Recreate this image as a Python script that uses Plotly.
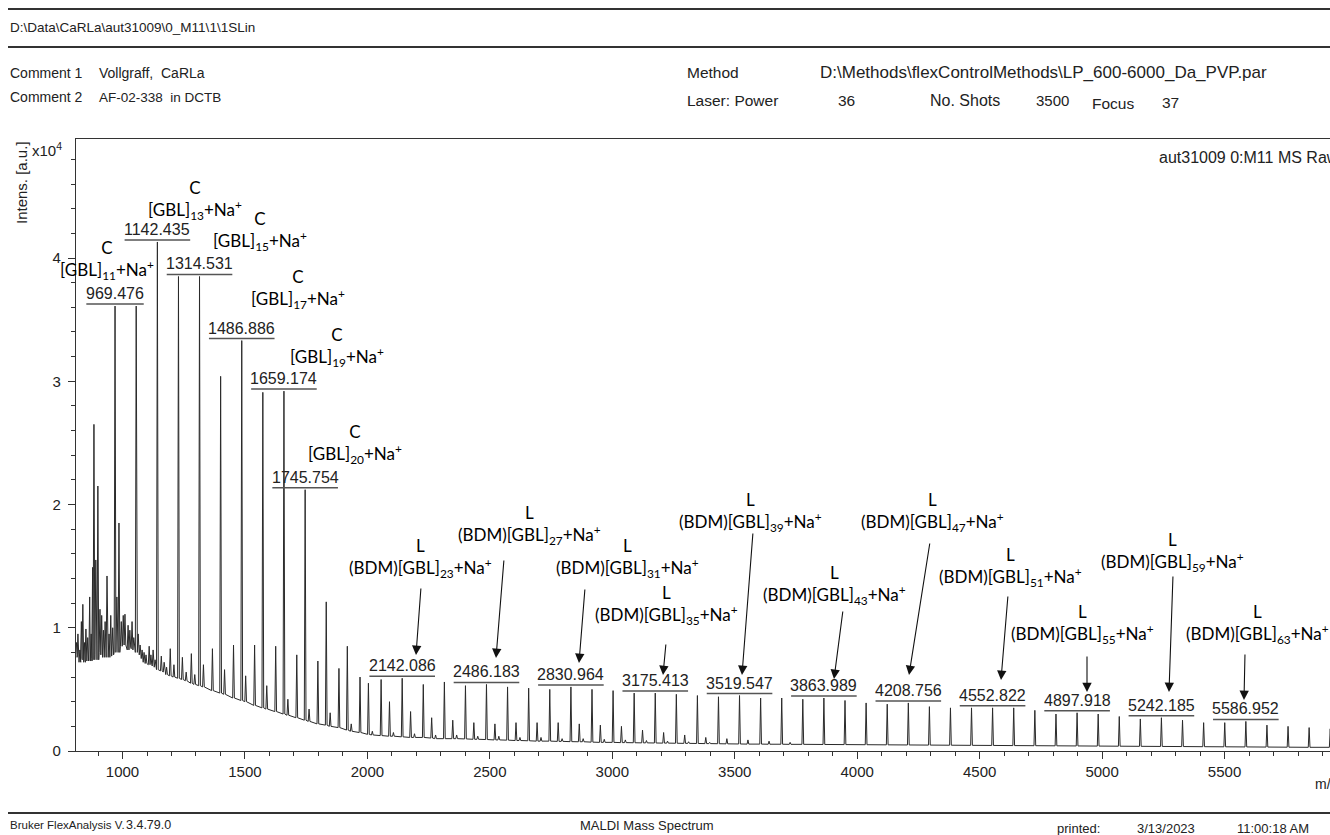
import plotly.graph_objects as go

# ---------------- data (intensities in 10^4 a.u.) ----------------
# cyclic series [GBL]n+Na+
c_mz = [883.4, 969.5, 1055.9, 1142.4, 1228.5, 1314.5, 1400.7, 1486.9, 1573.0, 1659.2, 1745.8,
        1831.9, 1918.0, 2004.1, 2090.2, 2176.3, 2262.4, 2348.5, 2434.6, 2520.7, 2606.8, 2692.9,
        2779.0, 2865.1, 2951.2, 3037.3, 3123.4, 3209.5, 3295.6, 3381.7, 3467.8, 3553.9, 3640.0, 3726.1]
c_top = [2.65, 3.61, 3.61, 4.13, 3.85, 3.85, 3.04, 3.33, 2.91, 2.92, 2.12,
         1.21, 0.85, 0.55, 0.40, 0.32, 0.27, 0.25, 0.23, 0.22, 0.23, 0.23,
         0.23, 0.22, 0.21, 0.20, 0.17, 0.15, 0.13, 0.11, 0.10, 0.09, 0.08, 0.07]
c_base = [0.74, 0.80, 0.80, 0.66, 0.59, 0.53, 0.47, 0.41, 0.35, 0.30, 0.25,
          0.21, 0.17, 0.135, 0.12, 0.11, 0.105, 0.10, 0.095, 0.09, 0.085, 0.08,
          0.078, 0.075, 0.07, 0.068, 0.066, 0.064, 0.062, 0.06, 0.058, 0.056, 0.055, 0.054]

# linear series (BDM)[GBL]n+Na+
l_mz = [850.6, 936.7, 1022.8, 1108.9, 1195.0, 1281.1, 1367.2, 1453.3, 1539.4, 1625.5, 1711.6,
        1797.7, 1883.8, 1969.9, 2056.0, 2142.1, 2228.2, 2314.3, 2400.4, 2486.2, 2572.3, 2658.5,
        2744.7, 2831.0, 2917.1, 3003.2, 3089.3, 3175.4, 3261.5, 3347.5, 3433.5, 3519.5, 3605.7,
        3691.8, 3777.9, 3864.0, 3950.2, 4036.4, 4122.6, 4208.8, 4294.8, 4380.8, 4466.8, 4552.8,
        4639.1, 4725.4, 4811.7, 4897.9, 4984.0, 5070.1, 5156.1, 5242.2, 5328.4, 5414.6, 5500.8,
        5587.0, 5673.1, 5759.3, 5845.4, 5931.5]
l_top = [0.99, 1.42, 1.02, 0.85, 0.83, 0.79, 0.83, 0.86, 0.86, 0.85, 0.78,
         0.73, 0.67, 0.60, 0.58, 0.59, 0.54, 0.56, 0.53, 0.54, 0.52, 0.51,
         0.50, 0.52, 0.50, 0.49, 0.47, 0.47, 0.46, 0.45, 0.44, 0.45, 0.43,
         0.43, 0.42, 0.43, 0.41, 0.39, 0.38, 0.39, 0.36, 0.35, 0.35, 0.35,
         0.35, 0.33, 0.30, 0.31, 0.30, 0.28, 0.26, 0.27, 0.25, 0.23, 0.23,
         0.24, 0.21, 0.20, 0.19, 0.18]
l_base = [0.74, 0.76, 0.82, 0.70, 0.61, 0.55, 0.49, 0.43, 0.37, 0.32, 0.27,
          0.22, 0.19, 0.15, 0.125, 0.115, 0.11, 0.10, 0.098, 0.093, 0.088, 0.083,
          0.08, 0.076, 0.072, 0.07, 0.067, 0.065, 0.063, 0.061, 0.059, 0.057, 0.056,
          0.055, 0.054, 0.053, 0.052, 0.051, 0.05, 0.049, 0.048, 0.047, 0.046, 0.045,
          0.044, 0.043, 0.042, 0.041, 0.04, 0.039, 0.038, 0.037, 0.036, 0.035, 0.034,
          0.033, 0.032, 0.031, 0.03, 0.03]

# K+ adduct shoulders of the cyclic series
k_mz = [899.4, 985.5, 1071.9, 1158.4, 1244.5, 1330.5, 1416.7, 1502.9, 1589.0, 1675.2, 1761.8,
        1847.9, 1934.0, 2020.1, 2106.2, 2192.3, 2278.4, 2364.5, 2450.6, 2536.7, 2622.8, 2708.9,
        2795.0, 2881.1, 2967.2, 3053.3, 3139.4, 3225.5, 3311.6, 3397.7]
k_top = [2.15, 1.85, 0.86, 0.77, 0.76, 0.70, 0.66, 0.61, 0.53, 0.42, 0.34,
         0.31, 0.22, 0.16, 0.15, 0.14, 0.13, 0.13, 0.12, 0.12, 0.11, 0.11,
         0.10, 0.10, 0.095, 0.09, 0.085, 0.08, 0.075, 0.07]
k_base = [0.74, 0.80, 0.78, 0.65, 0.58, 0.52, 0.46, 0.40, 0.34, 0.29, 0.24,
          0.20, 0.16, 0.13, 0.12, 0.11, 0.10, 0.10, 0.095, 0.09, 0.085, 0.08,
          0.078, 0.075, 0.07, 0.068, 0.066, 0.064, 0.062, 0.06]

# noisy low-mass region
n_mz = [812, 818, 826, 832, 838, 845, 858, 866, 872, 878, 891, 908, 915, 922, 929, 945, 952, 960,
        977, 995, 1003, 1010, 1030, 1039, 1046, 1064, 1080, 1088, 1096, 1116, 1125, 1133, 1170,
        1180, 1210, 1260, 1295]
n_top = [0.88, 0.95, 0.82, 1.05, 1.19, 0.88, 0.92, 1.25, 0.95, 1.49, 1.55, 1.15, 1.10, 0.98, 1.05,
         0.95, 1.10, 1.00, 1.25, 1.05, 1.10, 1.11, 0.98, 1.05, 0.92, 0.95, 0.82, 0.80, 0.78, 0.78,
         0.82, 0.74, 0.72, 0.68, 0.70, 0.64, 0.62]
n_base = [0.78, 0.76, 0.72, 0.74, 0.75, 0.72, 0.73, 0.74, 0.73, 0.75, 0.78, 0.80, 0.78, 0.76, 0.76,
          0.76, 0.77, 0.78, 0.82, 0.85, 0.86, 0.86, 0.84, 0.83, 0.82, 0.80, 0.75, 0.72, 0.71, 0.70,
          0.69, 0.68, 0.64, 0.62, 0.60, 0.57, 0.54]

# annotated peaks (printed m/z labels)
label_mz = [969.476, 1142.435, 1314.531, 1486.886, 1659.174, 1745.754,
            2142.086, 2486.183, 2830.964, 3175.413, 3519.547, 3863.989,
            4208.756, 4552.822, 4897.918, 5242.185, 5586.952]

c_labels = ["[GBL]<sub>11</sub>+Na<sup>+</sup>", "[GBL]<sub>13</sub>+Na<sup>+</sup>",
            "[GBL]<sub>15</sub>+Na<sup>+</sup>", "[GBL]<sub>17</sub>+Na<sup>+</sup>",
            "[GBL]<sub>19</sub>+Na<sup>+</sup>", "[GBL]<sub>20</sub>+Na<sup>+</sup>"]
l_labels = ["(BDM)[GBL]<sub>%d</sub>+Na<sup>+</sup>" % n for n in
            (23, 27, 31, 35, 39, 43, 47, 51, 55, 59, 63)]

# ---------------- layout geometry / styles ----------------
W, H = 1330, 835
ML, MR, MT, MB = 76, 0, 139, 84
PW, PH = W - ML - MR, H - MT - MB
X_RANGE = [810.1, 5930.6]
Y_RANGE = [0, 4.9655]
HW = 3.5  # half width of a peak foot (Da)

ARIAL = "Liberation Sans, Arial, sans-serif"
CAL = "Lato, Carlito, Calibri, sans-serif"
INK = "#222222"


def px(x):
    return (x - ML) / PW


def py(y):
    return (H - MB - y) / PH


def mz_of(xpix):
    return X_RANGE[0] + (xpix - ML) / PW * (X_RANGE[1] - X_RANGE[0])


def val_of(ypix):
    return (H - MB - ypix) / PH * (Y_RANGE[1] - Y_RANGE[0])


# ---------------- spectrum trace ----------------
peaks = sorted(zip(c_mz + l_mz + k_mz + n_mz,
                   c_top + l_top + k_top + n_top,
                   c_base + l_base + k_base + n_base))
xs, ys = [], []
for m, t, b in peaks:
    xs += [m - HW, m, m + HW]
    ys += [b, t, b]

fig = go.Figure()
fig.add_trace(go.Scatter(x=xs, y=ys, mode="lines", line=dict(color="#2a2a2a", width=1),
                         hoverinfo="skip"))

ann = []
shapes = []

# printed peak labels with underline
all_pk = list(zip(c_mz + l_mz, c_top + l_top))
for lm in label_mz:
    top = min(all_pk, key=lambda p: abs(p[0] - lm))[1]
    txt = "%.3f" % lm
    wpx = 8.2 * len(txt)
    ann.append(dict(x=lm, y=top, xref="x", yref="y", text=txt, showarrow=False,
                    yanchor="bottom", yshift=2, font=dict(family=ARIAL, size=16, color=INK)))
    shapes.append(dict(type="line", xref="x", yref="y", xsizemode="pixel", xanchor=lm,
                       x0=-wpx / 2, x1=wpx / 2, ysizemode="pixel", yanchor=top, y0=2, y1=2,
                       line=dict(color="#555555", width=1.5)))

# cyclic labels (pixel centres of two-line blocks)
c_pos = [(107, 260), (195, 200), (260, 230.5), (298, 288.5), (336.5, 346.5), (355, 443.5)]
for t, (xp, yp) in zip(c_labels, c_pos):
    ann.append(dict(x=mz_of(xp), y=val_of(yp), xref="x", yref="y", text="C<br>" + t,
                    showarrow=False, font=dict(family=CAL, size=17, color="#000000")))

# linear labels
l_pos = [(420, 558), (529, 525), (627, 558), (666, 605), (750, 512), (834, 585),
         (932, 512), (1010, 567), (1082, 624), (1172, 552), (1257, 624)]
for t, (xp, yp) in zip(l_labels, l_pos):
    ann.append(dict(x=mz_of(xp), y=val_of(yp), xref="x", yref="y", text="L<br>" + t,
                    showarrow=False, font=dict(family=CAL, size=17, color="#000000")))

# arrows (tail pixel, tip pixel)
arrows = [((421, 587), (416, 655)), ((504, 559), (496, 658)), ((585, 588), (579, 663)),
          ((666, 643), (663, 675)), ((753, 532), (742, 675)), ((843, 610), (834, 679)),
          ((930, 542), (909, 675)), ((1008, 595), (1001, 680)), ((1087, 655), (1087, 692)),
          ((1173, 575), (1169, 692)), ((1245, 653), (1244, 700))]
for (tx, ty), (hx, hy) in arrows:
    ann.append(dict(x=mz_of(hx), y=val_of(hy), xref="x", yref="y", ax=mz_of(tx), ay=val_of(ty),
                    axref="x", ayref="y", text="", showarrow=True, arrowhead=2, arrowsize=1.7,
                    arrowwidth=1.1, arrowcolor="#111111", standoff=0, startstandoff=0))

# header / footer texts (left x pixel, centre y pixel, text, size)
page_texts = [
    (8, 28, r"D:\Data\CaRLa\aut31009\0_M11\1\1SLin", 13.5),
    (8, 73, "Comment 1", 14), (97, 73, "Vollgraff,\u00a0 CaRLa", 14),
    (8, 97, "Comment 2", 14), (97, 97, "AF-02-338\u00a0 in DCTB", 13.5),
    (685, 73, "Method", 15.5), (818, 73, r"D:\Methods\flexControlMethods\LP_600-6000_Da_PVP.par", 17),
    (685, 100, "Laser: Power", 15.5), (836, 100, "36", 15.5), (928, 100, "No. Shots", 16),
    (1034, 100, "3500", 15), (1090, 104, "Focus", 15.5), (1160, 102, "37", 15.5),
    (1157, 157, "aut31009 0:M11 MS Raw", 16),
    (30, 149, "x10<sup>4</sup>", 15),
    (1313, 784, "m/z", 14),
    (8, 825, "Bruker FlexAnalysis V.", 11.5), (124, 825, "3.4.79.0", 12.5),
    (578, 825, "MALDI Mass Spectrum", 13), (1055, 828, "printed:", 13),
    (1135, 828, "3/13/2023", 13), (1235, 828, "11:00:18 AM", 13),
]
for xp, yp, t, s in page_texts:
    ann.append(dict(x=px(xp), y=py(yp), xref="paper", yref="paper", text=t, showarrow=False,
                    xanchor="left", yanchor="middle", font=dict(family=ARIAL, size=s, color=INK)))

ann.append(dict(x=px(22), y=py(183), xref="paper", yref="paper", text="Intens. [a.u.]",
                textangle=-90, showarrow=False, xanchor="center", yanchor="middle",
                font=dict(family=ARIAL, size=15, color=INK)))

# page rules
for yp, wd in [(9, 2), (47, 2), (813, 2)]:
    shapes.append(dict(type="line", xref="paper", yref="paper", x0=px(8), x1=px(W),
                       y0=py(yp), y1=py(yp), line=dict(color="#333333", width=wd)))

axis_common = dict(showgrid=False, zeroline=False, showline=True, linecolor="#333333",
                   linewidth=1.3, ticks="outside", ticklen=7, tickwidth=1, tickcolor="#333333",
                   tickfont=dict(family=ARIAL, size=15, color=INK))

fig.update_layout(
    width=W, height=H, margin=dict(l=ML, r=MR, t=MT, b=MB, pad=0),
    paper_bgcolor="white", plot_bgcolor="white", showlegend=False,
    xaxis=dict(range=X_RANGE, tick0=0, dtick=500, mirror=True,
               minor=dict(dtick=100, ticks="outside", ticklen=4, tickcolor="#333333", showgrid=False),
               **axis_common),
    yaxis=dict(range=Y_RANGE, tick0=0, dtick=1, ticklabelstandoff=4,
               minor=dict(dtick=0.2, ticks="outside", ticklen=4, tickcolor="#333333", showgrid=False),
               **axis_common),
    annotations=ann, shapes=shapes,
)

fig.write_html("out.html", config={"displayModeBar": False})
